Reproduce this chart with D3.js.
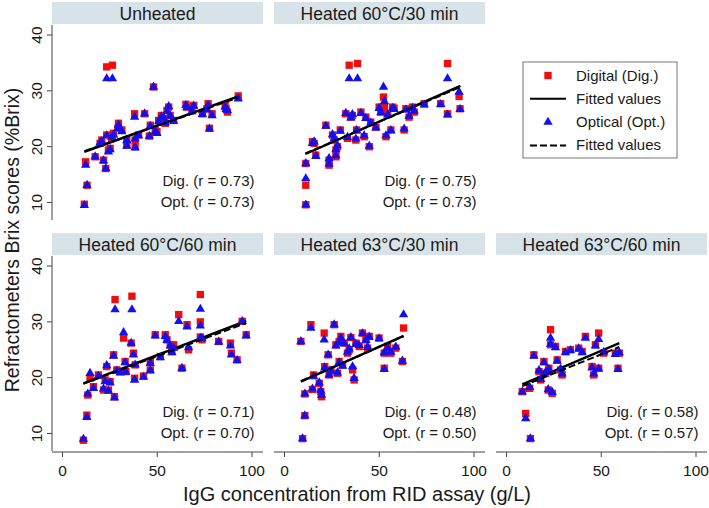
<!DOCTYPE html>
<html>
<head>
<meta charset="utf-8">
<script src="https://cdn.jsdelivr.net/npm/d3@7"></script>
<style>
  body { margin: 0; background: #fff; }
  svg { font-family: "Liberation Sans", Arial, sans-serif; }
</style>
</head>
<body>
<svg id="chart" width="709" height="508"></svg>
<script>
// panel titles and correlations
const panelTitles = ['Unheated', 'Heated 60°C/30 min', 'Heated 60°C/60 min', 'Heated 63°C/30 min', 'Heated 63°C/60 min'];
const panelGrid = [[0, 0], [1, 0], [0, 1], [1, 1], [2, 1]];
const digR = ['0.73', '0.75', '0.71', '0.48', '0.58'];
const optR = ['0.73', '0.73', '0.70', '0.50', '0.57'];
const xTicks = [0, 50, 100];
const yTicks = [10, 20, 30, 40];

// [IgG g/L, digital %Brix, optical %Brix]
const unheated = [
  [11.8, 9.6, 9.4], [13.2, 13.0, 13.0], [12.5, 17.2, 16.6], [17.5, 18.1, 18.1], [21.0, 21.1, 20.8],
  [20.1, 20.5, 20.6], [21.9, 17.5, 17.4], [23.1, 16.0, 16.0], [23.6, 22.0, 21.9], [23.6, 34.2, 32.1],
  [26.6, 34.5, 32.1], [24.5, 19.3, 19.0], [25.4, 19.6, 19.4], [26.3, 21.4, 21.6], [27.2, 22.3, 22.0],
  [29.5, 23.2, 23.2], [29.8, 24.1, 23.8], [31.6, 22.9, 22.6], [34.2, 21.1, 21.0], [34.2, 20.2, 20.0],
  [38.3, 25.8, 25.2], [38.6, 19.9, 19.7], [38.6, 21.1, 21.3], [40.4, 22.0, 21.9], [43.6, 25.8, 25.8],
  [46.1, 21.8, 21.8], [46.6, 23.75, 23.6], [48.3, 30.6, 30.6], [49.2, 22.9, 22.6], [50.1, 22.6, 22.3],
  [51.0, 24.6, 24.4], [52.4, 25.5, 25.3], [53.6, 24.9, 25.1], [54.5, 24.1, 24.2], [55.4, 26.4, 26.2],
  [56.3, 27.0, 27.1], [57.1, 25.5, 25.4], [58.9, 24.6, 24.5], [65.4, 27.5, 27.3], [65.9, 27.0, 26.9],
  [68.6, 26.4, 26.2], [69.5, 27.3, 27.2], [74.1, 25.8, 25.7], [76.5, 26.7, 26.5], [77.1, 27.6, 27.3],
  [77.8, 23.2, 23.1], [79.2, 25.8, 25.5], [86.1, 27.3, 27.0], [86.6, 26.7, 26.6], [87.3, 26.1, 26.4],
  [93.0, 29.0, 28.5]
];
const heated60_30 = [
  [11.5, 9.5, 9.5], [11.5, 13.0, 14.2], [11.5, 16.9, 16.9], [15.0, 20.8, 20.5], [15.9, 20.5, 20.8],
  [16.8, 18.4, 18.2], [22.1, 23.75, 23.6], [23.8, 17.5, 17.8], [23.8, 16.6, 16.8], [25.6, 22.0, 22.1],
  [26.5, 21.1, 21.3], [27.4, 19.3, 19.4], [27.4, 18.1, 18.3], [28.2, 19.9, 20.1], [29.7, 22.9, 22.7],
  [32.6, 25.8, 25.9], [33.5, 21.4, 21.6], [34.4, 34.5, 32.1], [35.3, 25.2, 25.1], [36.1, 25.5, 25.7],
  [37.9, 21.1, 21.3], [38.3, 22.9, 22.8], [38.8, 34.8, 32.1], [40.6, 26.1, 25.9], [42.3, 21.7, 21.9],
  [43.2, 25.2, 25.0], [45.0, 19.9, 20.0], [45.8, 24.3, 24.2], [48.5, 23.4, 23.3], [50.2, 27.0, 26.8],
  [51.1, 26.1, 26.0], [52.5, 28.8, 30.6], [53.0, 27.0, 28.0], [53.8, 21.7, 21.9], [54.7, 25.8, 25.6],
  [56.4, 22.9, 22.8], [57.3, 27.0, 26.8], [58.1, 26.8, 26.6], [63.4, 22.9, 23.1], [64.3, 26.7, 26.5],
  [66.0, 25.2, 25.4], [67.8, 27.0, 26.8], [68.7, 26.1, 26.3], [74.0, 27.6, 27.4], [82.7, 27.6, 27.5],
  [86.3, 25.8, 25.6], [86.3, 34.8, 32.1], [92.4, 28.9, 29.7], [92.9, 26.7, 26.6]
];
const heated60_60 = [
  [11.3, 8.7, 8.9], [13.1, 13.2, 12.8], [13.6, 16.8, 17.0], [14.8, 19.8, 20.7], [16.6, 18.3, 18.0],
  [19.2, 20.4, 20.2], [21.9, 17.7, 17.9], [22.8, 19.5, 19.2], [23.6, 21.9, 22.1], [24.5, 17.7, 17.5],
  [25.4, 19.2, 19.0], [27.2, 24.0, 23.8], [27.7, 16.5, 16.3], [28.0, 33.9, 32.1], [28.9, 21.3, 21.1],
  [30.7, 21.0, 20.8], [32.5, 27.0, 28.0], [33.3, 22.8, 22.6], [33.7, 21.0, 20.9], [36.5, 26.1, 26.1],
  [36.9, 34.5, 32.1], [37.7, 24.3, 24.0], [38.3, 19.8, 19.5], [38.6, 22.2, 22.2], [43.0, 20.2, 20.0],
  [46.6, 22.8, 22.5], [46.6, 21.3, 21.2], [49.2, 27.6, 27.4], [51.9, 23.7, 23.5], [54.5, 27.6, 27.3],
  [55.4, 26.7, 26.6], [57.1, 25.8, 25.6], [58.0, 24.6, 24.4], [58.9, 25.8, 25.2], [61.6, 31.2, 30.0],
  [63.3, 21.6, 21.6], [66.0, 29.4, 29.0], [66.8, 24.9, 25.3], [73.0, 34.8, 32.2], [73.0, 29.9, 29.2],
  [73.0, 27.2, 27.0], [73.9, 26.7, 26.9], [82.7, 26.4, 26.3], [88.9, 26.1, 25.6], [89.4, 24.3, 24.0],
  [92.4, 23.1, 23.0], [95.1, 30.0, 30.0], [97.2, 27.6, 27.4]
];
const heated63_30 = [
  [9.8, 9.0, 9.0], [11.0, 13.1, 13.1], [11.0, 17.0, 17.0], [8.9, 26.4, 26.4], [14.2, 29.4, 28.8],
  [15.0, 17.8, 17.9], [15.6, 20.4, 20.1], [18.6, 18.9, 19.0], [19.4, 17.4, 17.6], [19.8, 16.5, 16.8],
  [21.2, 27.9, 26.7], [21.5, 21.9, 21.7], [23.3, 24.0, 24.0], [23.8, 20.4, 20.4], [24.7, 21.3, 21.1],
  [26.5, 29.4, 29.4], [27.4, 25.8, 25.6], [28.2, 20.7, 20.8], [29.1, 22.8, 22.6], [29.1, 26.4, 26.2],
  [30.0, 27.3, 27.0], [30.9, 22.2, 22.0], [31.8, 26.1, 26.0], [33.5, 24.3, 24.5], [34.4, 24.9, 25.1],
  [35.3, 27.1, 27.1], [36.2, 21.3, 21.9], [37.0, 19.5, 19.8], [37.9, 26.1, 25.9], [39.7, 25.5, 25.7],
  [41.4, 27.9, 27.8], [43.2, 26.7, 26.6], [44.1, 25.2, 25.4], [45.0, 27.3, 27.2], [50.2, 27.0, 26.9],
  [52.9, 21.6, 21.4], [52.9, 24.3, 24.4], [54.7, 25.5, 25.2], [56.4, 24.3, 24.5], [59.0, 25.2, 25.4],
  [62.5, 22.8, 22.9], [63.1, 28.8, 31.2]
];
const heated63_60 = [
  [12.9, 9.0, 9.0], [10.4, 13.5, 12.6], [8.6, 17.4, 17.4], [12.5, 18.0, 18.2], [14.7, 24.0, 23.8],
  [17.4, 21.0, 21.2], [18.3, 19.5, 19.6], [20.0, 22.8, 22.6], [20.9, 20.7, 20.9], [22.3, 17.7, 17.8],
  [22.6, 21.6, 21.4], [23.5, 28.5, 27.0], [23.5, 25.8, 25.9], [24.4, 17.1, 17.3], [26.1, 25.5, 25.3],
  [27.0, 23.1, 22.9], [28.8, 21.3, 21.5], [29.6, 20.4, 20.6], [31.4, 24.6, 24.4], [34.0, 24.9, 24.8],
  [38.4, 25.2, 25.1], [40.2, 24.6, 24.4], [41.9, 27.3, 27.0], [45.4, 21.9, 21.7], [46.3, 20.4, 20.6],
  [47.2, 25.8, 25.6], [48.9, 27.9, 26.8], [48.9, 21.6, 21.5], [51.6, 24.3, 24.5], [57.7, 24.3, 24.1],
  [59.1, 21.6, 21.4], [59.8, 24.3, 24.4]
];
const panelData = [unheated, heated60_30, heated60_60, heated63_30, heated63_60];

// fitted lines: [x0, y0, x1, y1]
const digFits = [[11.8, 19.0, 93, 28.9], [11.3, 18.6, 93.1, 30.8], [11.3, 18.9, 97.2, 30.1], [8.9, 19.2, 63.1, 27.4], [8.6, 18.7, 59.8, 26.1]];
const optFits = [[11.8, 19.1, 93, 28.7], [11.3, 18.7, 93.1, 30.6], [11.3, 18.8, 97.2, 29.7], [8.9, 19.3, 63.1, 27.3], [8.6, 18.4, 59.8, 25.4]];

const svg = d3.select('#chart');
const red = '#f20d0d', blue = '#1010f0';
const headerFill = '#d8e3e9';
const axisCol = '#444';
const textCol = '#1a1a1a';

const panelW = 211, colStep = 222, rowStep = 231;
const plotTop0 = 25, plotH = 195;

const squareSym = d3.symbol().type(d3.symbolSquare).size(54);
const triSym = d3.symbol().type(d3.symbolTriangle).size(38);

panelData.forEach((pts, i) => {
	const [col, row] = panelGrid[i];
	const left = 52 + col * colStep;
	const top = plotTop0 + row * rowStep;

	const x = d3.scaleLinear().domain([0, 100]).range([left + 10, left + 199.5]);
	const y = d3.scaleLinear().domain([10, 40]).range([top + 177, top + 9.5]);

	const g = svg.append('g');

	// header strip
	g.append('rect')
		.attr('x', left).attr('y', top - 23)
		.attr('width', panelW).attr('height', 22)
		.attr('fill', headerFill);
	g.append('text')
		.attr('x', left + panelW / 2).attr('y', top - 5.5)
		.attr('text-anchor', 'middle')
		.attr('font-size', 17.5)
		.attr('fill', textCol)
		.text(panelTitles[i]);

	if (col === 0) {
		const ya = g.append('g')
			.attr('transform', `translate(${left},0)`)
			.call(d3.axisLeft(y).tickValues(yTicks).tickSize(5).tickSizeOuter(0));
		ya.select('.domain').attr('d', `M0,${top}V${top + plotH}`).attr('stroke', axisCol);
		ya.selectAll('line').attr('stroke', axisCol);
		ya.selectAll('text')
			.attr('x', 0).attr('dy', 0)
			.attr('text-anchor', 'middle')
			.attr('transform', 'translate(-10,0) rotate(-90)')
			.attr('font-size', 15.5)
			.attr('font-family', '"Liberation Sans", Arial, sans-serif')
			.attr('fill', textCol);
	}
	if (row === 1) {
		const xa = g.append('g')
			.attr('transform', `translate(0,${top + plotH + 1})`)
			.call(d3.axisBottom(x).tickValues(xTicks).tickSize(5).tickSizeOuter(0));
		xa.select('.domain').attr('d', `M${left},0H${left + panelW}`).attr('stroke', axisCol);
		xa.selectAll('line').attr('stroke', axisCol);
		xa.selectAll('text')
			.attr('y', 0).attr('dy', 0)
			.attr('transform', 'translate(0,24)')
			.attr('font-size', 15.5)
			.attr('font-family', '"Liberation Sans", Arial, sans-serif')
			.attr('fill', textCol);
	}

	const line = d3.line().x(d => x(d[0])).y(d => y(d[1]));

	g.append('g').selectAll('path')
		.data(pts).join('path')
		.attr('d', squareSym)
		.attr('transform', d => `translate(${x(d[0])},${y(d[1])})`)
		.attr('fill', red);

	const df = digFits[i];
	g.append('path')
		.attr('d', line([[df[0], df[1]], [df[2], df[3]]]))
		.attr('stroke', '#000').attr('stroke-width', 2.4).attr('fill', 'none');

	g.append('g').selectAll('path')
		.data(pts).join('path')
		.attr('d', triSym)
		.attr('transform', d => `translate(${x(d[0])},${y(d[2])})`)
		.attr('fill', blue);

	const of = optFits[i];
	g.append('path')
		.attr('d', line([[of[0], of[1]], [of[2], of[3]]]))
		.attr('stroke', '#000').attr('stroke-width', 2)
		.attr('stroke-dasharray', '7,3').attr('fill', 'none');

	// correlation labels
	g.append('text')
		.attr('x', x(100) + 3).attr('y', y(10) - 16)
		.attr('text-anchor', 'end').attr('font-size', 15).attr('fill', textCol)
		.text(`Dig. (r = ${digR[i]})`);
	g.append('text')
		.attr('x', x(100) + 3).attr('y', y(10) + 4.5)
		.attr('text-anchor', 'end').attr('font-size', 15).attr('fill', textCol)
		.text(`Opt. (r = ${optR[i]})`);
});

// axis titles
svg.append('text')
	.attr('transform', 'translate(19,240) rotate(-90)')
	.attr('text-anchor', 'middle').attr('font-size', 19.5).attr('fill', textCol)
	.text('Refractometers Brix scores (%Brix)');
svg.append('text')
	.attr('x', 357).attr('y', 501)
	.attr('text-anchor', 'middle').attr('font-size', 20).attr('fill', textCol)
	.text('IgG concentration from RID assay (g/L)');

// legend
const legendItems = ['Digital (Dig.)', 'Fitted values', 'Optical (Opt.)', 'Fitted values'];
const lg = svg.append('g');
lg.append('rect')
	.attr('x', 523).attr('y', 62).attr('width', 154).attr('height', 96)
	.attr('fill', '#fff').attr('stroke', '#777').attr('stroke-width', 1);
legendItems.forEach((label, k) => {
	const cy = 75.5 + k * 23.3;
	if (k === 0) {
		lg.append('path').attr('d', squareSym).attr('transform', `translate(548,${cy})`).attr('fill', red);
	} else if (k === 2) {
		lg.append('path').attr('d', triSym).attr('transform', `translate(548,${cy})`).attr('fill', blue);
	} else {
		lg.append('line').attr('x1', 530).attr('x2', 566).attr('y1', cy).attr('y2', cy)
			.attr('stroke', '#000').attr('stroke-width', 2)
			.attr('stroke-dasharray', k === 3 ? '7,3' : null);
	}
	lg.append('text')
		.attr('x', 576).attr('y', cy + 5)
		.attr('font-size', 15).attr('fill', textCol)
		.text(label);
});
</script>
</body>
</html>
